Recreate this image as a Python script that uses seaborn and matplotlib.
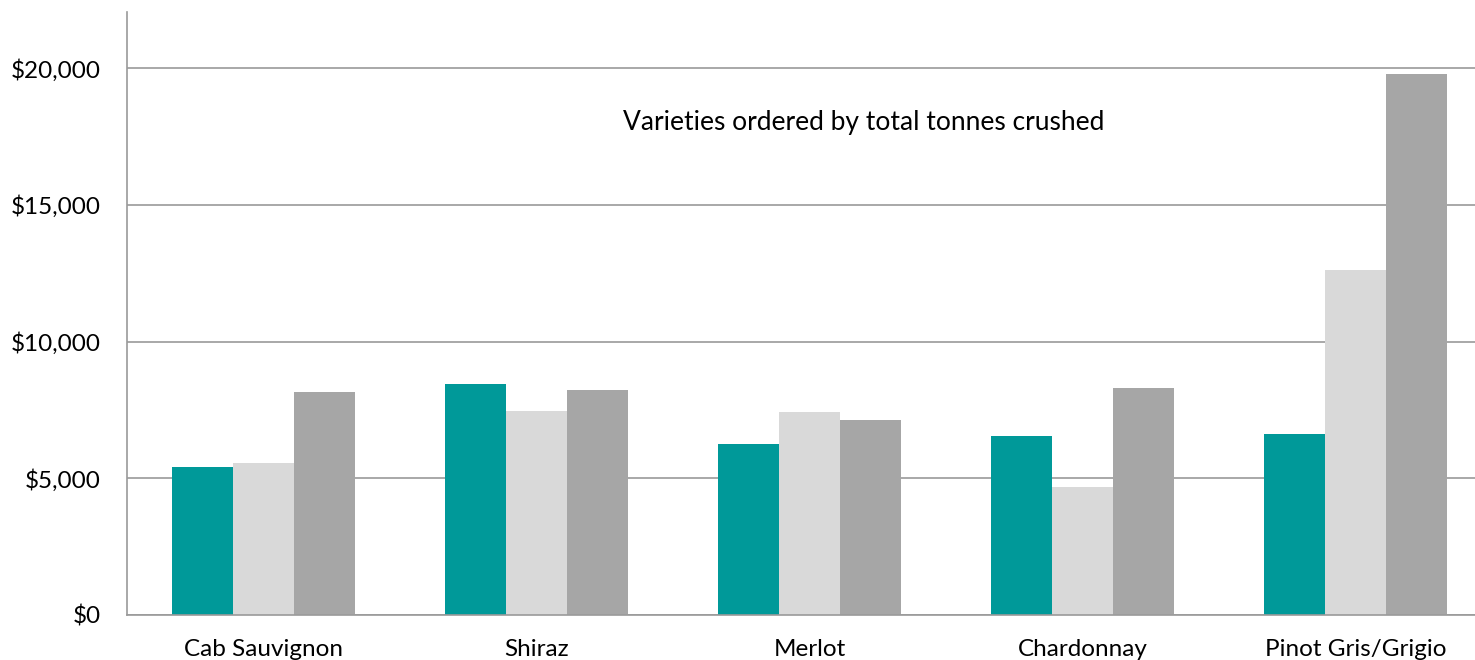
import pandas as pd
import numpy as np
import matplotlib
matplotlib.use("Agg")
import matplotlib.pyplot as plt
import seaborn as sns
from matplotlib.ticker import FuncFormatter

sns.set_theme(style="white")
plt.rcParams['font.family'] = ['Lato', 'DejaVu Sans']

varieties = ["Cab Sauvignon", "Shiraz", "Merlot", "Chardonnay", "Pinot Gris/Grigio"]
series_names = ["Series 1", "Series 2", "Series 3"]
series_1 = [5410, 8450, 6250, 6540, 6620]
series_2 = [5560, 7460, 7420, 4680, 12610]
series_3 = [8150, 8230, 7130, 8300, 19780]
colors = ["#009999", "#D9D9D9", "#A6A6A6"]

df = pd.DataFrame({
    "Variety": varieties * 3,
    "Series": np.repeat(series_names, len(varieties)),
    "Value": series_1 + series_2 + series_3,
})

fig = plt.figure(figsize=(14.75, 6.6), dpi=100)
ax = fig.add_axes([127 / 1475, 45 / 660, 1365 / 1475, 603 / 660])

sns.barplot(data=df, x="Variety", y="Value", hue="Series", palette=colors,
            width=0.67, saturation=1, legend=False, linewidth=0, ax=ax)

ax.set_xlim(-0.5, 4.5)
ax.set_ylim(0, 22050)
ax.set_yticks([0, 5000, 10000, 15000, 20000])
ax.yaxis.set_major_formatter(FuncFormatter(lambda v, p: "${:,.0f}".format(v)))
ax.grid(axis="y", color="#9A9A9A", linewidth=1.2)
ax.set_axisbelow(True)
ax.set_xlabel("")
ax.set_ylabel("")

for side in ["top", "right"]:
    ax.spines[side].set_visible(False)
for side in ["left", "bottom"]:
    ax.spines[side].set_color("#9A9A9A")
    ax.spines[side].set_linewidth(1.2)

ax.tick_params(axis="y", length=0, pad=19, labelsize=17.5, labelcolor="#000000")
ax.tick_params(axis="x", length=0, pad=17, labelsize=17.5, labelcolor="#000000")

ax.text(2.2, 18000, "Varieties ordered by total tonnes crushed",
        ha="center", va="center", fontsize=19, color="#000000")

fig.savefig("out.png", dpi=100)
